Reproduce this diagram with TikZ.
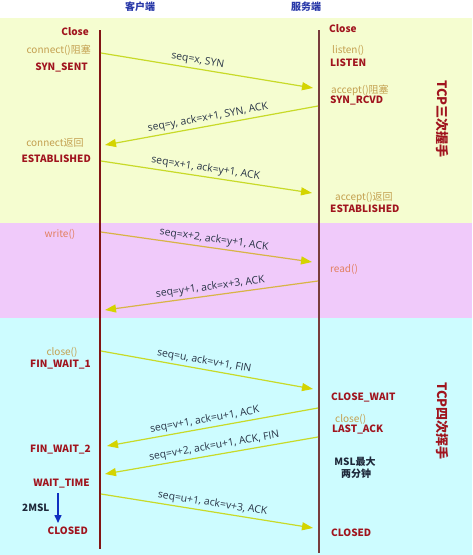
\documentclass[tikz,border=0pt]{standalone}
\usepackage{fontspec}
\setmainfont{Noto Sans CJK SC}
\newfontfamily\labelfont{Open Sans}
\usetikzlibrary{arrows.meta}
\definecolor{bggreen}{RGB}{245,253,208}
\definecolor{bgpurple}{RGB}{240,202,250}
\definecolor{bgcyan}{RGB}{205,252,255}
\definecolor{statered}{RGB}{160,20,30}
\definecolor{functan}{RGB}{196,160,80}
\definecolor{funcsalmon}{RGB}{226,128,96}
\definecolor{arrowgreen}{RGB}{200,218,40}
\definecolor{arrowtan}{RGB}{216,180,70}
\definecolor{headyellow}{RGB}{212,212,0}
\definecolor{labeltext}{RGB}{40,52,70}
\definecolor{clientline}{RGB}{130,20,20}
\definecolor{serverline}{RGB}{120,60,60}
\definecolor{titleblue}{RGB}{40,56,168}
\definecolor{darknote}{RGB}{30,40,58}
\definecolor{timeblue}{RGB}{16,48,192}
\tikzset{
  state/.style={font=\bfseries\fontsize{10}{12}\selectfont, text=statered, inner sep=0pt},
  func/.style={font=\fontsize{10}{12}\selectfont, text=functan, inner sep=0pt},
  funcs/.style={func, text=funcsalmon},
  msg/.style={draw=arrowgreen, line width=1.2pt, -{Triangle[length=11pt,width=8pt,color=headyellow]}},
  msgtan/.style={msg, draw=arrowtan},
  msglabel/.style={font=\labelfont\fontsize{10.4}{11}\selectfont, text=labeltext, sloped, above=1.5pt, inner sep=1pt},
  title/.style={font=\bfseries\fontsize{10}{12}\selectfont, text=titleblue, inner sep=0pt},
  side/.style={font=\bfseries\fontsize{13}{14}\selectfont, text=statered, rotate=-90, inner sep=0pt},
  note/.style={font=\bfseries\fontsize{10}{12}\selectfont, text=darknote, inner sep=0pt},
  timearrow/.style={draw=timeblue, line width=1.5pt, -{Triangle[length=8pt,width=7pt]}},
}
\begin{document}
\begin{tikzpicture}[x=1pt,y=-1pt]
\useasboundingbox (0,0) rectangle (472,555);
\fill[white] (0,0) rectangle (472,555);
\fill[bggreen] (0,18) rectangle (472,223);
\fill[bgpurple] (0,223) rectangle (472,318);
\fill[bgcyan] (0,318) rectangle (472,555);

\node[title] (tc) at (140,7) {客户端};
\node[title] (ts) at (306,7) {服务端};

\coordinate (ctop) at (100,30);
\coordinate (cbot) at (100,549);
\coordinate (stop) at (319,30);
\coordinate (sbot) at (319,553);
\draw[clientline, line width=1.6pt] (ctop) -- (cbot);
\draw[serverline, line width=1.6pt] (stop) -- (sbot);

% client labels
\node[state, anchor=east] (cclose) at (89,32) {Close};
\node[func, anchor=east] (cconn) at (91,50) {connect()阻塞};
\node[state, anchor=east] (csynsent) at (88,68) {SYN\_SENT};
\node[func] (cconnret) at (55,143) {connect返回};
\node[state, anchor=east] (cest) at (91,159) {ESTABLISHED};
\node[funcs] (cwrite) at (60,234) {write()};
\node[func] (cclosef) at (62,352) {close()};
\node[state, anchor=east] (cfw1) at (91,365) {FIN\_WAIT\_1};
\node[state, anchor=east] (cfw2) at (91,450) {FIN\_WAIT\_2};
\node[state, anchor=east] (cwt) at (90,484) {WAIT\_TIME};
\node[note, anchor=west] (c2msl) at (22,508) {2MSL};
\node[state, anchor=east] (cclosed) at (88,531) {CLOSED};
\coordinate (wta) at (58,493);
\coordinate (wtb) at (58,523);
\draw[timearrow] (wta) -- (wtb);

% server labels
\node[state, anchor=west] (sclose) at (329,29) {Close};
\node[func, anchor=west] (slisten) at (332,50) {listen()};
\node[state, anchor=west] (slistenst) at (330,63) {LISTEN};
\node[func, anchor=west] (saccept) at (331,90) {accept()阻塞};
\node[state, anchor=west] (ssynrcvd) at (330,101) {SYN\_RCVD};
\node[func, anchor=west] (sacceptret) at (335,198) {accept()返回};
\node[state, anchor=west] (sest) at (330,209) {ESTABLISHED};
\node[funcs, anchor=west] (sread) at (330,269) {read()};
\node[state, anchor=west] (sclosewait) at (331,398) {CLOSE\_WAIT};
\node[func, anchor=west] (sclosef) at (335,419) {close()};
\node[state, anchor=west] (slastack) at (332,430) {LAST\_ACK};
\node[note] (smsl) at (355,462) {MSL最大};
\node[note] (smsl2) at (356,474) {两分钟};
\node[state, anchor=west] (sclosed) at (331,533) {CLOSED};

\node[side] (hand3) at (442,119) {TCP三次握手};
\node[side] (hand4) at (442,421) {TCP四次挥手};

% message endpoints
\coordinate (a1s) at (101,53);  \coordinate (a1e) at (313,88);
\coordinate (a2s) at (318,106); \coordinate (a2e) at (105,145);
\coordinate (a3s) at (101,161); \coordinate (a3e) at (312,193);
\coordinate (a4s) at (101,232); \coordinate (a4e) at (312,262);
\coordinate (a5s) at (318,281); \coordinate (a5e) at (105,310);
\coordinate (a6s) at (101,351); \coordinate (a6e) at (313,389);
\coordinate (a7s) at (318,408); \coordinate (a7e) at (107,446);
\coordinate (a8s) at (318,437); \coordinate (a8e) at (105,474);
\coordinate (a9s) at (101,494); \coordinate (a9e) at (313,528);

\draw[msg] (a1s) -- node[msglabel, pos=0.45] {seq=x, SYN} (a1e);
\draw[msg] (a2s) -- node[msglabel, pos=0.51] {seq=y, ack=x+1, SYN, ACK} (a2e);
\draw[msg] (a3s) -- node[msglabel, pos=0.49] {seq=x+1, ack=y+1, ACK} (a3e);
\draw[msgtan] (a4s) -- node[msglabel, pos=0.53] {seq=x+2, ack=y+1, ACK} (a4e);
\draw[msgtan] (a5s) -- node[msglabel, pos=0.5] {seq=y+1, ack=x+3, ACK} (a5e);
\draw[msg] (a6s) -- node[msglabel, pos=0.48] {seq=u, ack=v+1, FIN} (a6e);
\draw[msg] (a7s) -- node[msglabel, pos=0.53] {seq=v+1, ack=u+1, ACK} (a7e);
\draw[msg] (a8s) -- node[msglabel, pos=0.48, above=0.5pt] {seq=v+2, ack=u+1, ACK, FIN} (a8e);
\draw[msg] (a9s) -- node[msglabel, pos=0.52] {seq=u+1, ack=v+3, ACK} (a9e);
\end{tikzpicture}
\end{document}
